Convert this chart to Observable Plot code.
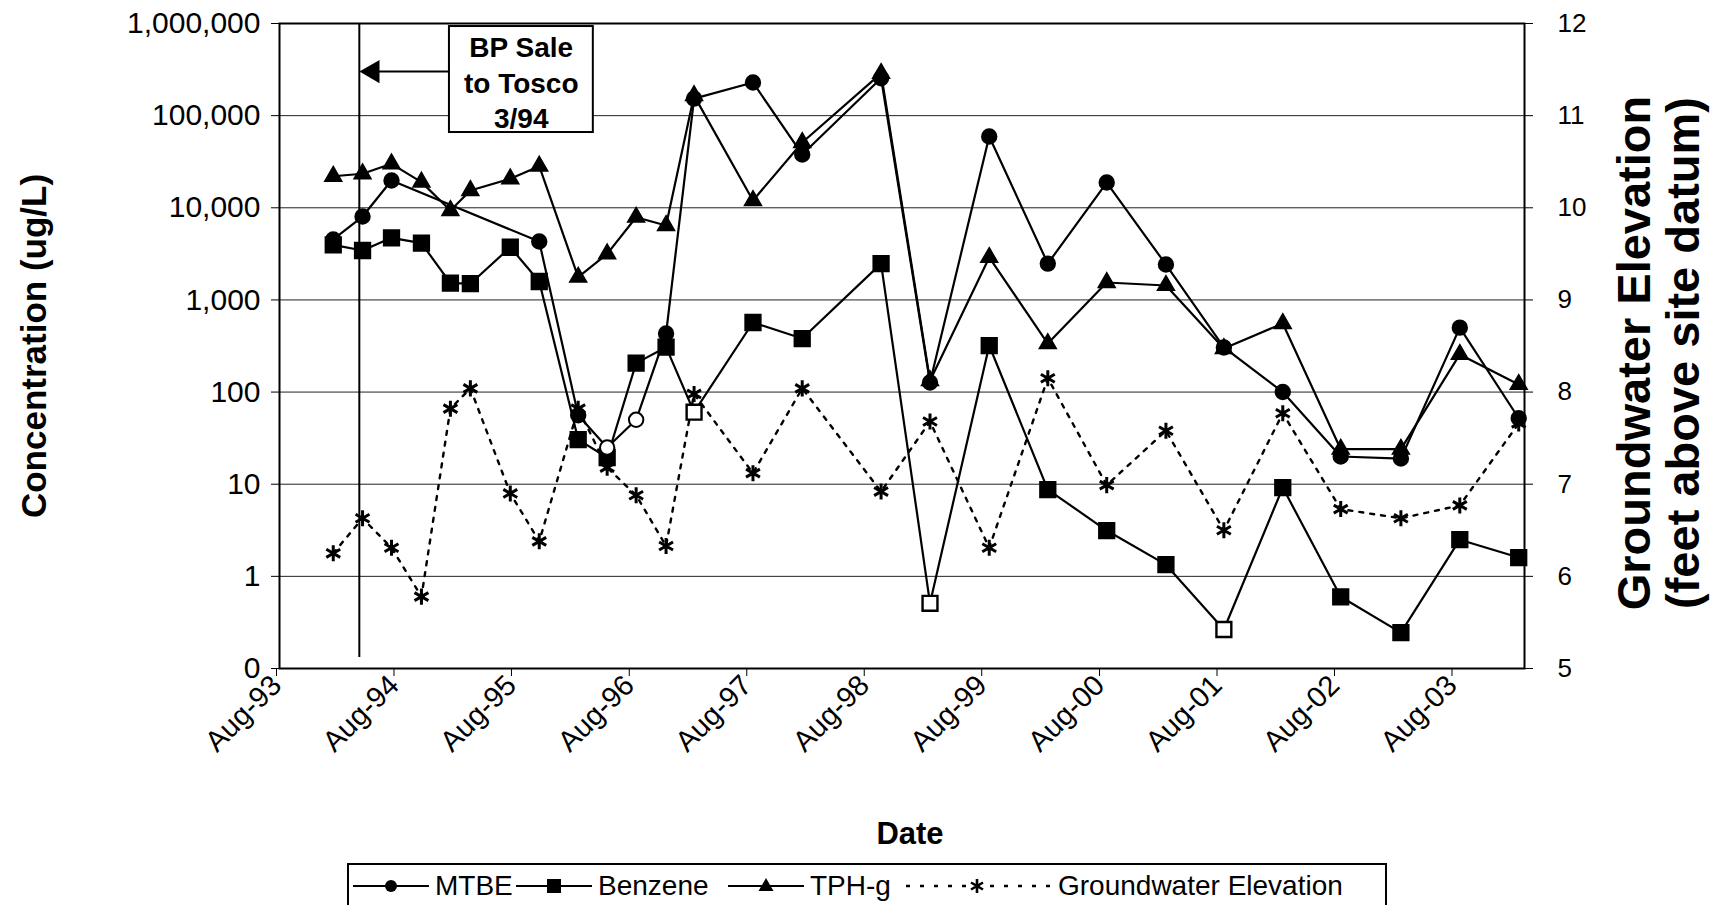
<!DOCTYPE html>
<html>
<head>
<meta charset="utf-8">
<script src="https://cdn.jsdelivr.net/npm/d3@7"></script>
<script src="https://cdn.jsdelivr.net/npm/@observablehq/plot@0.6"></script>
<style>
  html, body { margin: 0; padding: 0; background: #fff; }
  body { width: 1713px; height: 905px; position: relative; overflow: hidden; font-family: "Liberation Sans", Arial, sans-serif; }
  #chart { position: absolute; left: 0; top: 0; }
  #legend { position: absolute; left: 347px; top: 863px; width: 1040px; height: 60px; border: 2px solid #000; box-sizing: border-box; background: #fff; }
  .item { position: absolute; top: 4px; height: 34px; display: flex; align-items: center; font-size: 28px; color: #000; white-space: nowrap; }
  .item svg { margin-right: 6px; }
</style>
</head>
<body>
<div id="chart"></div>
<div id="legend"></div>
<script>
// ---- data ----
const sampleDates = ["1994-01-15","1994-04-16","1994-07-15","1994-10-16","1995-01-14","1995-03-17","1995-07-19","1995-10-17",
  "1996-02-15","1996-05-15","1996-08-13","1996-11-14","1997-02-09","1997-08-11","1998-01-11","1998-09-13","1999-02-12",
  "1999-08-15","2000-02-13","2000-08-14","2001-02-14","2001-08-13","2002-02-12","2002-08-11","2003-02-14","2003-08-16","2004-02-15"];
const mtbe = [4530, 8040, 19800, null, null, null, null, 4300, 56, 25, 50, 432, 153000, 229000, 37900, 255000, 127,
  59400, 2480, 18800, 2420, 305, 100, 20, 19, 500, 52];
const mtbeNonDetect = [false,false,false,false,false,false,false,false,false,true,true,false,false,false,false,false,false,
  false,false,false,false,false,false,false,false,false,false];
const benzene = [3960, 3440, 4720, 4130, 1520, 1500, 3730, 1585, 30.5, 19.5, 206, 307, 60.5, 569, 381, 2480, 0.51,
  320, 8.75, 3.14, 1.34, 0.265, 9.2, 0.60, 0.245, 2.5, 1.6];
const benzeneNonDetect = [false,false,false,false,false,false,false,false,false,false,false,false,true,false,false,false,true,
  false,false,false,false,true,false,false,false,false,false];
const tph = [22000, 23400, 30000, 19000, 9340, 15400, 20600, 28300, 1765, 3160, 7900, 6420, 165000, 12000, 51100, 287000, 133,
  2890, 336, 1545, 1435, 297, 555, 24, 24, 256, 121];
const groundwater = [6.25, 6.63, 6.31, 5.78, 7.82, 8.04, 6.90, 6.38, 7.82, 7.18, 6.88, 6.33, 7.98, 7.12, 8.04, 6.92, 7.68,
  6.31, 8.15, 6.99, 7.58, 6.50, 7.77, 6.73, 6.63, 6.77, 7.66];

const xTickLabels = ["Aug-93","Aug-94","Aug-95","Aug-96","Aug-97","Aug-98","Aug-99","Aug-00","Aug-01","Aug-02","Aug-03"];
const xDomain = ["1993-08-01", "2004-03-04"];
const yTickValues = [0.1, 1, 10, 100, 1000, 10000, 100000, 1000000];
const yTickLabels = ["0","1","10","100","1,000","10,000","100,000","1,000,000"];
const gwTickValues = [5, 6, 7, 8, 9, 10, 11, 12];
const gwTickLabels = ["5","6","7","8","9","10","11","12"];

const saleDate = "1994-04-06";
const saleLabel = ["BP Sale", "to Tosco", "3/94"];
const saleBox = {x1: "1995-01-11", x2: "1996-04-02", y1: 65600, y2: 927000, textX: "1995-08-22", textY: 234800,
  arrowY: 301000, arrowFrom: "1995-01-11", arrowTip: "1994-05-18"};

const leftTitle = "Concentration (ug/L)";
const rightTitle = ["Groundwater Elevation", "(feet above site datum)"];
const xTitle = "Date";
const legendItems = ["MTBE", "Benzene", "TPH-g", "Groundwater Elevation"];

// ---- build ----
const parse = d3.utcParse("%Y-%m-%d");
const gwToY = e => Math.pow(10, e - 6);   // secondary axis mapped onto the primary log scale
const rows = sampleDates.map((d, i) => ({
  date: parse(d), mtbe: mtbe[i], mtbeND: mtbeNonDetect[i], benzene: benzene[i], benzeneND: benzeneNonDetect[i],
  tph: tph[i], gw: groundwater[i], gwY: gwToY(groundwater[i])
}));
const mtbeRows = rows.filter(r => r.mtbe != null);
const xTicks = xTickLabels.map(d3.utcParse("%b-%y"));

const font = "'Liberation Sans', Arial, sans-serif";
const chart = Plot.plot({
  width: 1713,
  height: 860,
  marginLeft: 279,
  marginRight: 189,
  marginTop: 23,
  marginBottom: 192,
  style: {fontFamily: font, fontSize: "27px", color: "#000", background: "#fff", overflow: "visible"},
  x: {type: "utc", domain: xDomain.map(parse)},
  y: {type: "log", domain: [yTickValues[0], yTickValues[yTickValues.length - 1]]},
  marks: [
    Plot.gridY(yTickValues, {stroke: "#222", strokeOpacity: 1, strokeWidth: 1}),
    Plot.axisY(yTickValues, {anchor: "left", tickSize: 8, tickPadding: 11, label: null, fontSize: 30,
      tickFormat: d => yTickLabels[Math.round(Math.log10(d)) + 1]}),
    Plot.axisY(gwTickValues.map(gwToY), {anchor: "right", tickSize: 8, tickPadding: 25, label: null, fontSize: 26,
      tickFormat: d => gwTickLabels[Math.round(Math.log10(d)) + 1]}),
    Plot.axisX(xTicks, {tickSize: 8, tickRotate: -45, tickPadding: 4, dx: -3, label: null, fontSize: 29,
      tickFormat: d3.utcFormat("%b-%y")}),
    Plot.frame({stroke: "#000", strokeWidth: 2}),
    // sale marker
    Plot.ruleX([parse(saleDate)], {y1: 0.1315, y2: 1e6, stroke: "#000", strokeWidth: 2}),
    // groundwater (secondary axis)
    Plot.line(rows, {x: "date", y: "gwY", stroke: "#000", strokeWidth: 2.4, strokeDasharray: "4,7"}),
    Plot.dot(rows, {x: "date", y: "gwY", symbol: "asterisk", r: 7.6, stroke: "#000", strokeWidth: 3}),
    // TPH-g
    Plot.line(rows, {x: "date", y: "tph", stroke: "#000", strokeWidth: 2.2}),
    Plot.dot(rows, {x: "date", y: "tph", symbol: "triangle", r: 6.3, fill: "#000", stroke: "#000"}),
    // Benzene
    Plot.line(rows, {x: "date", y: "benzene", stroke: "#000", strokeWidth: 2.2}),
    Plot.dot(rows, {x: "date", y: "benzene", symbol: "square", r: 8.4, stroke: "#000", strokeWidth: 2.4,
      fill: d => d.benzeneND ? "#fff" : "#000"}),
    // MTBE
    Plot.line(mtbeRows, {x: "date", y: "mtbe", stroke: "#000", strokeWidth: 2.2}),
    Plot.dot(mtbeRows, {x: "date", y: "mtbe", symbol: "circle", r: 7.2, stroke: "#000", strokeWidth: 2,
      fill: d => d.mtbeND ? "#fff" : "#000"}),
    // annotation box + arrow
    Plot.rect([saleBox], {x1: d => parse(d.x1), x2: d => parse(d.x2), y1: "y1", y2: "y2", fill: "#fff", stroke: "#000", strokeWidth: 2}),
    Plot.text([saleLabel.join("\n")], {x: () => parse(saleBox.textX), y: () => saleBox.textY, fontWeight: "bold",
      fontSize: 28, lineHeight: 1.27, fill: "#000"}),
    Plot.link([saleBox], {x1: d => parse(d.arrowFrom), x2: d => parse(d.arrowTip), y1: "arrowY", y2: "arrowY",
      stroke: "#000", strokeWidth: 2}),
    Plot.dot([saleBox], {x: d => parse(d.arrowTip), y: "arrowY", symbol: "triangle", r: 8.6, rotate: -90, fill: "#000", stroke: "none"}),
    // axis titles
    Plot.text([leftTitle], {frameAnchor: "left", textAnchor: "middle", dx: -245, rotate: -90, fontSize: 35,
      fontWeight: "bold", fill: "#000"}),
    Plot.text([rightTitle.join("\n")], {frameAnchor: "right", textAnchor: "middle", dx: 134, dy: 7, rotate: -90, fontSize: 47,
      lineHeight: 1.04, fontWeight: "bold", fill: "#000"}),
    Plot.text([xTitle], {frameAnchor: "bottom", dx: 8, dy: 175, fontSize: 31, fontWeight: "bold", fill: "#000"})
  ]
});
document.getElementById("chart").appendChild(chart);

// ---- legend ----
const legend = document.getElementById("legend");
const legendX = [4, 167, 379, 553];
const keyWidth = [76, 76, 76, 150];
const symbolSvg = [
  '<line x1="0" y1="15" x2="76" y2="15" stroke="#000" stroke-width="2.2"/><circle cx="38" cy="15" r="6" fill="#000"/>',
  '<line x1="0" y1="15" x2="76" y2="15" stroke="#000" stroke-width="2.2"/><rect x="31" y="8" width="14" height="14" fill="#000"/>',
  '<line x1="0" y1="15" x2="76" y2="15" stroke="#000" stroke-width="2.2"/><path d="M38,7 L45.5,20 L30.5,20 Z" fill="#000"/>',
  '<line x1="4" y1="15" x2="150" y2="15" stroke="#000" stroke-width="2.4" stroke-dasharray="4,10"/>' +
  '<path d="M75,8 V22 M69,11.5 L81,18.5 M69,18.5 L81,11.5" stroke="#000" stroke-width="2.6" fill="none"/>'
];
legendItems.forEach((name, i) => {
  const div = document.createElement("div");
  div.className = "item";
  div.style.left = legendX[i] + "px";
  div.innerHTML = '<svg width="' + keyWidth[i] + '" height="30">' + symbolSvg[i] + '</svg><span>' + name + '</span>';
  legend.appendChild(div);
});
</script>
</body>
</html>
